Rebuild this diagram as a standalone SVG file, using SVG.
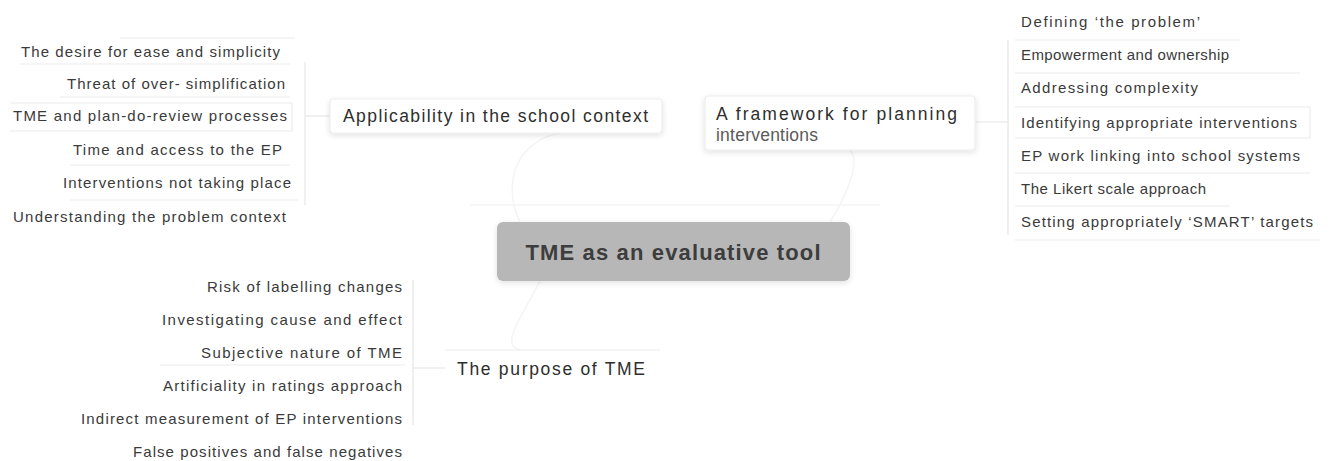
<svg xmlns="http://www.w3.org/2000/svg" width="1329" height="461" viewBox="0 0 1329 461">
  <style>
    .leaf { font-family: "Liberation Sans", Arial, sans-serif; font-size: 15px; fill: #3a3a3a; }
    .end { text-anchor: end; }
    .branch { font-family: "Liberation Sans", Arial, sans-serif; font-size: 17.5px; fill: #2e2e2e; }
    .sub { fill: #5a5a5a; }
    .root { font-family: "Liberation Sans", Arial, sans-serif; font-size: 22px; font-weight: bold; fill: #3d3d3d; text-anchor: middle; }
    .rule { stroke: #ececec; stroke-width: 1.2; fill: none; }
    .wire { stroke: #e6e6e6; stroke-width: 1.2; fill: none; }
    .faint { stroke: #f4f4f4; stroke-width: 1.5; fill: none; }
    .frame { fill: #ffffff; stroke: #ededed; stroke-width: 1.2; }
  </style>
  <defs>
    <filter id="soft" x="-10%" y="-20%" width="120%" height="150%">
      <feGaussianBlur in="SourceAlpha" stdDeviation="3"/>
      <feOffset dx="0" dy="2"/>
      <feComponentTransfer><feFuncA type="linear" slope="0.12"/></feComponentTransfer>
      <feMerge><feMergeNode/><feMergeNode in="SourceGraphic"/></feMerge>
    </filter>
  </defs>

  <rect width="1329" height="461" fill="#ffffff"/>

  <!-- connectors -->
  <g id="connectors">
    <path class="faint" d="M 470 205 L 880 205"/>
    <path class="faint" d="M 520 222 C 500 180, 520 140, 560 133"/>
    <path class="faint" d="M 830 222 C 850 190, 860 160, 850 150"/>
    <path class="faint" d="M 540 281 C 520 320, 500 345, 520 350"/>
    <!-- left bracket -->
    <path class="wire" d="M 305 62 L 305 205"/>
    <path class="wire" d="M 305 116 L 330 116"/>
    <!-- right bracket -->
    <path class="wire" d="M 1008 40 L 1008 235"/>
    <path class="wire" d="M 975 122 L 1008 122"/>
    <!-- bottom bracket -->
    <path class="wire" d="M 413 280 L 413 425"/>
    <path class="wire" d="M 413 368 L 445 368"/>
  </g>

  <!-- root -->
  <g id="root">
    <rect x="497" y="222" width="353" height="59" rx="6" fill="#b7b7b7" filter="url(#soft)"/>
    <text class="root" x="673" y="260" textLength="295" lengthAdjust="spacing">TME as an evaluative tool</text>
  </g>

  <!-- branch: applicability -->
  <g id="applicability">
    <rect class="frame" x="330" y="99" width="332" height="34" rx="3" filter="url(#soft)"/>
    <text class="branch" x="343" y="122" textLength="305" lengthAdjust="spacing">Applicability in the school context</text>
  </g>
  <g id="applicability-items">
    <path class="rule" d="M 120 38 L 295 38 M 20 64 L 290 64 M 60 97 L 290 97 M 10 103 L 292 103 L 292 131 L 10 131 M 70 165 L 290 165 M 70 200 L 298 200"/>
    <text class="leaf end" x="280" y="57" textLength="259" lengthAdjust="spacing">The desire for ease and simplicity</text>
    <text class="leaf end" x="285" y="89" textLength="218" lengthAdjust="spacing">Threat of over- simplification</text>
    <text class="leaf end" x="287" y="121" textLength="274" lengthAdjust="spacing">TME and plan-do-review processes</text>
    <text class="leaf end" x="282" y="155" textLength="209" lengthAdjust="spacing">Time and access to the EP</text>
    <text class="leaf end" x="291" y="188" textLength="228" lengthAdjust="spacing">Interventions not taking place</text>
    <text class="leaf end" x="286" y="222" textLength="273" lengthAdjust="spacing">Understanding the problem context</text>
  </g>

  <!-- branch: framework -->
  <g id="framework">
    <rect class="frame" x="705" y="96" width="270" height="54" rx="3" filter="url(#soft)"/>
    <text class="branch" x="716" y="120" textLength="241" lengthAdjust="spacing">A framework for planning</text>
    <text class="branch sub" x="716" y="141" textLength="102" lengthAdjust="spacing">interventions</text>
  </g>
  <g id="framework-items">
    <path class="rule" d="M 1015 40 L 1240 40 M 1015 73 L 1300 73 M 1015 107 L 1310 107 L 1310 138 L 1015 138 M 1015 173 L 1310 173 M 1015 206 L 1230 206 M 1015 240 L 1320 240"/>
    <text class="leaf" x="1021" y="27" textLength="179" lengthAdjust="spacing">Defining ‘the problem’</text>
    <text class="leaf" x="1021" y="60" textLength="208" lengthAdjust="spacing">Empowerment and ownership</text>
    <text class="leaf" x="1021" y="93" textLength="177" lengthAdjust="spacing">Addressing complexity</text>
    <text class="leaf" x="1021" y="128" textLength="276" lengthAdjust="spacing">Identifying appropriate interventions</text>
    <text class="leaf" x="1021" y="161" textLength="279" lengthAdjust="spacing">EP work linking into school systems</text>
    <text class="leaf" x="1021" y="194" textLength="185" lengthAdjust="spacing">The Likert scale approach</text>
    <text class="leaf" x="1021" y="227" textLength="292" lengthAdjust="spacing">Setting appropriately ‘SMART’ targets</text>
  </g>

  <!-- branch: purpose -->
  <g id="purpose">
    <path class="rule" d="M 445 350 L 660 350"/>
    <text class="branch" x="457" y="375" textLength="188" lengthAdjust="spacing">The purpose of TME</text>
  </g>
  <g id="purpose-items">
    <path class="rule" d="M 160 365 L 405 365"/>
    <text class="leaf end" x="402" y="292" textLength="195" lengthAdjust="spacing">Risk of labelling changes</text>
    <text class="leaf end" x="402" y="325" textLength="240" lengthAdjust="spacing">Investigating cause and effect</text>
    <text class="leaf end" x="402" y="358" textLength="201" lengthAdjust="spacing">Subjective nature of TME</text>
    <text class="leaf end" x="402" y="391" textLength="239" lengthAdjust="spacing">Artificiality in ratings approach</text>
    <text class="leaf end" x="402" y="424" textLength="321" lengthAdjust="spacing">Indirect measurement of EP interventions</text>
    <text class="leaf end" x="402" y="457" textLength="269" lengthAdjust="spacing">False positives and false negatives</text>
  </g>
</svg>
